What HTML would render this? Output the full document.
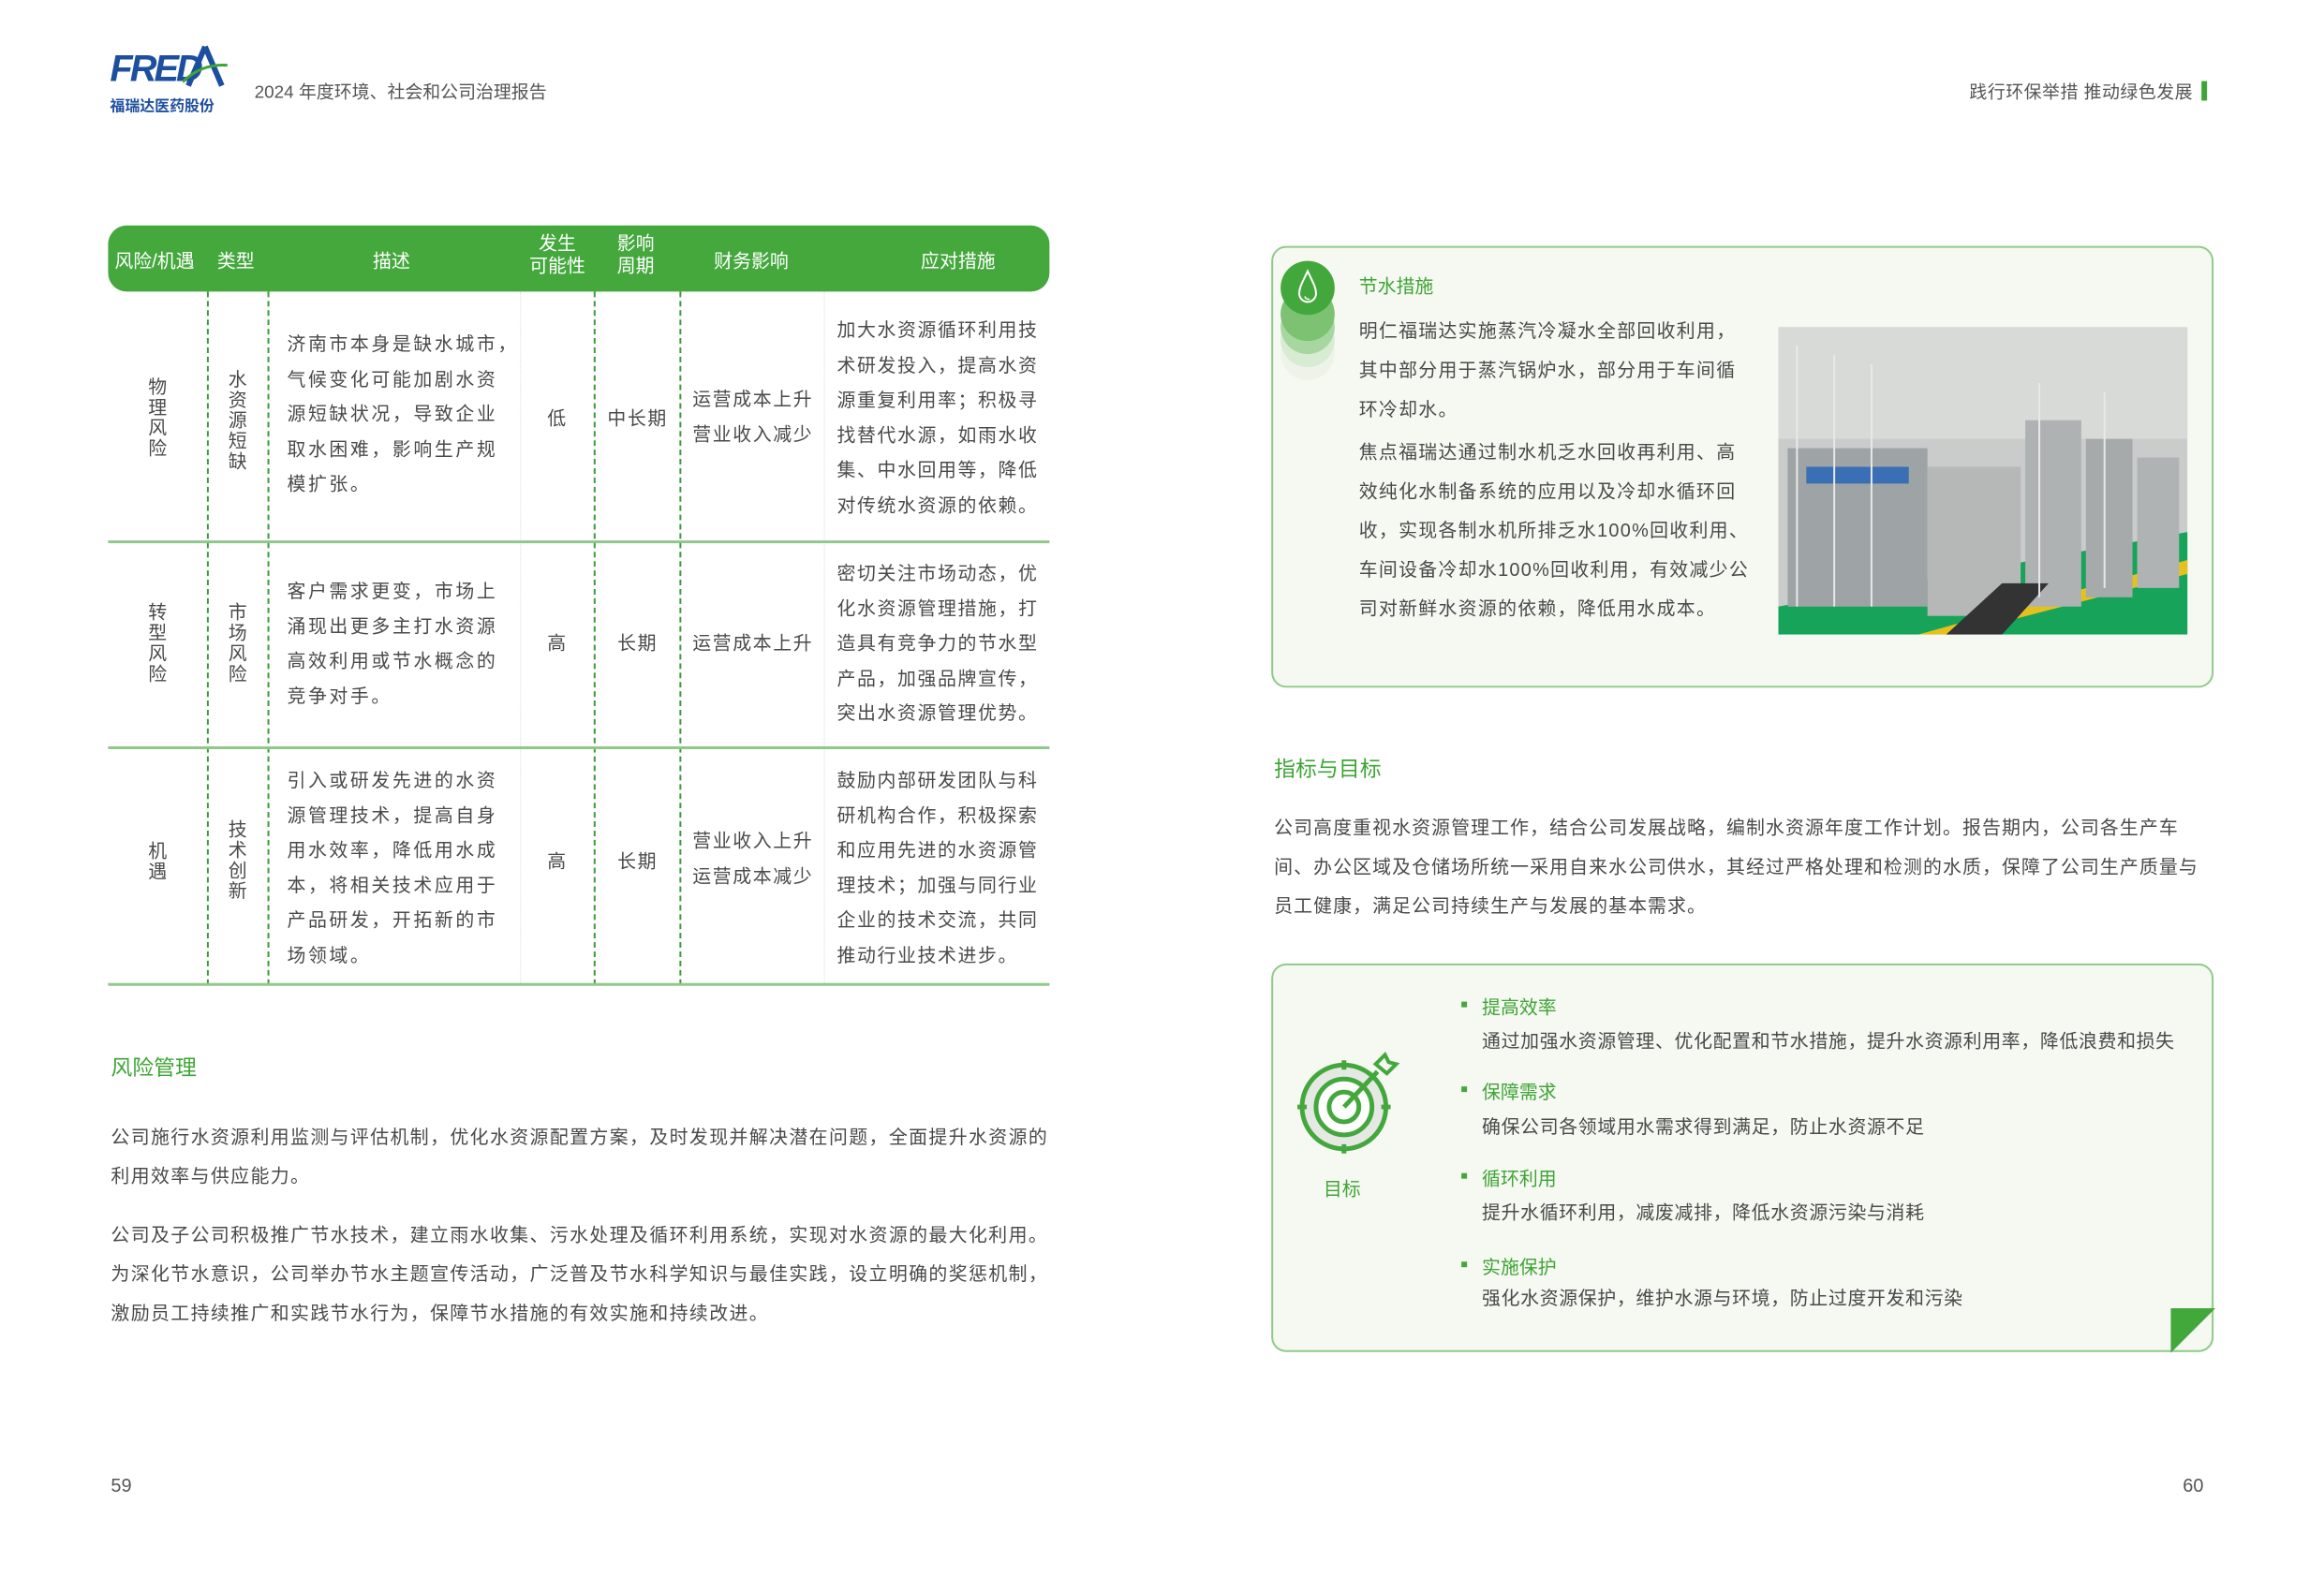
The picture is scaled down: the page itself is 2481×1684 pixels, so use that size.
<!DOCTYPE html>
<html><head><meta charset="utf-8"><style>
*{margin:0;padding:0;box-sizing:border-box}
body{width:2481px;height:1684px;background:#fff;position:relative;overflow:hidden;font-family:"Liberation Sans","Noto Sans CJK SC",sans-serif;color:#4a4a4a}
#w{position:absolute;left:0;top:0;width:2481px;height:1684px;transform:scale(0.995);transform-origin:0 0}
.a{position:absolute;white-space:nowrap}
.t{font-size:20px;letter-spacing:1.6px}
.g{color:#3ea535}
.vl{position:absolute;top:313px;height:744px;border-left:2px dashed #3e9a3a}
.vl2{position:absolute;top:313px;height:744px;border-left:1px dotted #cfe3cc}
.hl{position:absolute;left:116px;width:1010px;height:3px;background:#8fc88a}
.vert{position:absolute;font-size:20px;line-height:22px;width:24px;text-align:center;white-space:normal;word-break:break-all;color:#4a4a4a}
.cell{position:absolute;font-size:20px;letter-spacing:1.6px;line-height:37.5px;white-space:nowrap}
.c{text-align:center}
</style></head><body><div id="w">
<!-- header -->
<div class="a" style="left:118px;top:52px;font-size:40px;font-weight:bold;color:#1d4fa0;letter-spacing:-3px;font-style:italic">FRED</div>
<svg class="a" style="left:196px;top:48px" width="50" height="46"><path d="M24 2 L6 44 M24 2 L42 44" stroke="#1d4fa0" stroke-width="6" fill="none"/><path d="M0 40 Q20 20 48 22" stroke="#3ea535" stroke-width="3" fill="none"/></svg>
<div class="a" style="left:118px;top:100px;font-size:16px;font-weight:bold;color:#1d4fa0">福瑞达医药股份</div>
<div class="a" style="left:273px;top:84px;font-size:19px;color:#555">2024 年度环境、社会和公司治理报告</div>
<div class="a" style="left:2113px;top:84px;font-size:19px;color:#555;letter-spacing:0.5px">践行环保举措 推动绿色发展</div>
<div class="a" style="left:2362px;top:87px;width:6px;height:21px;background:#3ea535"></div>

<!-- table header -->
<div class="a" style="left:116px;top:242px;width:1010px;height:71px;background:#44a83d;border-radius:20px"></div>
<div class="a" style="color:#fff;font-size:20px;left:123px;top:264px">风险/机遇</div>
<div class="a" style="color:#fff;font-size:20px;left:233px;top:264px">类型</div>
<div class="a" style="color:#fff;font-size:20px;left:400px;top:264px">描述</div>
<div class="a" style="color:#fff;font-size:20px;left:562px;top:250px;line-height:24px;text-align:center;width:72px;white-space:normal">发生<br>可能性</div>
<div class="a" style="color:#fff;font-size:20px;left:662px;top:250px;line-height:24px">影响<br>周期</div>
<div class="a" style="color:#fff;font-size:20px;left:766px;top:264px">财务影响</div>
<div class="a" style="color:#fff;font-size:20px;left:988px;top:264px">应对措施</div>

<!-- grid -->
<div class="vl" style="left:222px"></div>
<div class="vl" style="left:287px"></div>
<div class="vl2" style="left:558px"></div>
<div class="vl" style="left:637px"></div>
<div class="vl" style="left:729px"></div>
<div class="vl2" style="left:884px"></div>
<div class="hl" style="top:580px"></div>
<div class="hl" style="top:801px"></div>
<div class="hl" style="top:1055px"></div>

<!-- row 1 -->
<div class="vert" style="left:157px;top:405px">物理风险</div>
<div class="vert" style="left:243px;top:397px">水资源短缺</div>
<div class="cell" style="left:308px;top:352px;letter-spacing:2.6px">济南市本身是缺水城市，<br>气候变化可能加剧水资<br>源短缺状况，导致企业<br>取水困难，影响生产规<br>模扩张。</div>
<div class="cell c" style="left:558px;width:80px;top:432px">低</div>
<div class="cell c" style="left:638px;width:92px;top:432px">中长期</div>
<div class="cell" style="left:743px;top:411px">运营成本上升<br>营业收入减少</div>
<div class="cell" style="left:898px;top:337px">加大水资源循环利用技<br>术研发投入，提高水资<br>源重复利用率；积极寻<br>找替代水源，如雨水收<br>集、中水回用等，降低<br>对传统水资源的依赖。</div>

<!-- row 2 -->
<div class="vert" style="left:157px;top:647px">转型风险</div>
<div class="vert" style="left:243px;top:647px">市场风险</div>
<div class="cell" style="left:308px;top:617px;letter-spacing:2.6px">客户需求更变，市场上<br>涌现出更多主打水资源<br>高效利用或节水概念的<br>竞争对手。</div>
<div class="cell c" style="left:558px;width:80px;top:673px">高</div>
<div class="cell c" style="left:638px;width:92px;top:673px">长期</div>
<div class="cell" style="left:743px;top:673px">运营成本上升</div>
<div class="cell" style="left:898px;top:598px">密切关注市场动态，优<br>化水资源管理措施，打<br>造具有竞争力的节水型<br>产品，加强品牌宣传，<br>突出水资源管理优势。</div>

<!-- row 3 -->
<div class="vert" style="left:157px;top:903px">机遇</div>
<div class="vert" style="left:243px;top:880px">技术创新</div>
<div class="cell" style="left:308px;top:820px;letter-spacing:2.6px">引入或研发先进的水资<br>源管理技术，提高自身<br>用水效率，降低用水成<br>本，将相关技术应用于<br>产品研发，开拓新的市<br>场领域。</div>
<div class="cell c" style="left:558px;width:80px;top:907px">高</div>
<div class="cell c" style="left:638px;width:92px;top:907px">长期</div>
<div class="cell" style="left:743px;top:885px">营业收入上升<br>运营成本减少</div>
<div class="cell" style="left:898px;top:820px">鼓励内部研发团队与科<br>研机构合作，积极探索<br>和应用先进的水资源管<br>理技术；加强与同行业<br>企业的技术交流，共同<br>推动行业技术进步。</div>

<!-- left text -->
<div class="a g" style="left:119px;top:1127px;font-size:23px">风险管理</div>
<div class="a t" style="left:119px;top:1200px;line-height:42px;letter-spacing:1.4px">公司施行水资源利用监测与评估机制，优化水资源配置方案，及时发现并解决潜在问题，全面提升水资源的<br>利用效率与供应能力。</div>
<div class="a t" style="left:119px;top:1305px;line-height:42px;letter-spacing:1.4px">公司及子公司积极推广节水技术，建立雨水收集、污水处理及循环利用系统，实现对水资源的最大化利用。<br>为深化节水意识，公司举办节水主题宣传活动，广泛普及节水科学知识与最佳实践，设立明确的奖惩机制，<br>激励员工持续推广和实践节水行为，保障节水措施的有效实施和持续改进。</div>
<div class="a" style="left:119px;top:1584px;font-size:20px;color:#555">59</div>
<div class="a" style="left:2342px;top:1584px;font-size:20px;color:#555">60</div>

<!-- box 1 -->
<div class="a" style="left:1364px;top:264px;width:1011px;height:474px;border:2px solid #8fca89;border-radius:16px;background:#f6f8f2"></div>
<div class="a" style="left:1374px;top:350px;width:58px;height:58px;border-radius:50%;background:#eef3ea"></div>
<div class="a" style="left:1374px;top:336px;width:58px;height:58px;border-radius:50%;background:#d8ebd3"></div>
<div class="a" style="left:1374px;top:322px;width:58px;height:58px;border-radius:50%;background:#a8d6a0"></div>
<div class="a" style="left:1374px;top:308px;width:58px;height:58px;border-radius:50%;background:#7cc272"></div>
<div class="a" style="left:1374px;top:280px;width:58px;height:58px;border-radius:50%;background:#43a83c"></div>
<svg class="a" style="left:1390px;top:288px" width="26" height="42"><path d="M13 3 C8 14 4 20 4 27 A9 9 0 0 0 22 27 C22 20 18 14 13 3Z" stroke="#fff" stroke-width="2" fill="none"/><path d="M10 30 A4 4 0 0 0 15 33" stroke="#fff" stroke-width="1.5" fill="none"/></svg>
<div class="a g" style="left:1458px;top:291px;font-size:20px">节水措施</div>
<div class="a t" style="left:1458px;top:335px;line-height:42px;letter-spacing:1.3px">明仁福瑞达实施蒸汽冷凝水全部回收利用，<br>其中部分用于蒸汽锅炉水，部分用于车间循<br>环冷却水。</div>
<div class="a t" style="left:1458px;top:465px;line-height:42px;letter-spacing:1.3px">焦点福瑞达通过制水机乏水回收再利用、高<br>效纯化水制备系统的应用以及冷却水循环回<br>收，实现各制水机所排乏水100%回收利用、<br>车间设备冷却水100%回收利用，有效减少公<br>司对新鲜水资源的依赖，降低用水成本。</div>
<!-- photo -->
<svg class="a" style="left:1908px;top:351px" width="439" height="330">
<rect width="439" height="330" fill="#c9cccb"/>
<rect y="0" width="439" height="120" fill="#d8dad8"/>
<polygon points="0,330 0,300 439,220 439,330" fill="#17a35a"/>
<polygon points="150,330 439,250 439,265 190,330" fill="#e6c11e"/>
<rect x="10" y="130" width="150" height="170" fill="#9ea3a5"/>
<rect x="160" y="150" width="100" height="160" fill="#b5b8b6"/>
<rect x="265" y="100" width="60" height="200" fill="#aeb2b3"/>
<rect x="330" y="120" width="50" height="170" fill="#a6aaab"/>
<rect x="385" y="140" width="45" height="140" fill="#b0b3b4"/>
<rect x="30" y="150" width="110" height="18" fill="#3a6fb5"/>
<polygon points="180,330 240,275 290,275 240,330" fill="#333"/>
<g stroke="#e8e8e8" stroke-width="2"><line x1="20" y1="20" x2="20" y2="300"/><line x1="60" y1="30" x2="60" y2="300"/><line x1="100" y1="40" x2="100" y2="300"/><line x1="280" y1="60" x2="280" y2="290"/><line x1="350" y1="70" x2="350" y2="280"/></g>
</svg>

<div class="a g" style="left:1367px;top:806px;font-size:23px">指标与目标</div>
<div class="a t" style="left:1367px;top:868px;line-height:42px;letter-spacing:1.1px">公司高度重视水资源管理工作，结合公司发展战略，编制水资源年度工作计划。报告期内，公司各生产车<br>间、办公区域及仓储场所统一采用自来水公司供水，其经过严格处理和检测的水质，保障了公司生产质量与<br>员工健康，满足公司持续生产与发展的基本需求。</div>

<!-- box 2 -->
<div class="a" style="left:1364px;top:1034px;width:1011px;height:417px;border:2px solid #8fca89;border-radius:16px;background:#f6f8f2"></div>
<svg class="a" style="left:2329px;top:1404px" width="48" height="50"><polygon points="0,0 48,0 0,48" fill="#43a83c"/></svg>
<svg class="a" style="left:1392px;top:1128px" width="112" height="112">
<circle cx="50" cy="60" r="45" fill="#e6e8e4" stroke="#43a83c" stroke-width="5"/>
<circle cx="50" cy="60" r="30" fill="#fff" stroke="#43a83c" stroke-width="5"/>
<circle cx="50" cy="60" r="16" fill="#fff" stroke="#43a83c" stroke-width="5"/>
<line x1="50" y1="10" x2="50" y2="20" stroke="#43a83c" stroke-width="5"/>
<line x1="50" y1="100" x2="50" y2="110" stroke="#43a83c" stroke-width="5"/>
<line x1="0" y1="60" x2="10" y2="60" stroke="#43a83c" stroke-width="5"/>
<line x1="90" y1="60" x2="100" y2="60" stroke="#43a83c" stroke-width="5"/>
<line x1="50" y1="60" x2="86" y2="22" stroke="#43a83c" stroke-width="5"/>
<path d="M84 14 L94 4 L98 12 L106 14 L96 24 Z" fill="none" stroke="#43a83c" stroke-width="4"/>
</svg>
<div class="a g" style="left:1420px;top:1260px;font-size:20px">目标</div>
<div class="a" style="left:1568px;top:1075px;width:6px;height:6px;background:#43a83c"></div>
<div class="a g" style="left:1590px;top:1065px;font-size:20px">提高效率</div>
<div class="a t" style="left:1590px;top:1101px;letter-spacing:0.65px">通过加强水资源管理、优化配置和节水措施，提升水资源利用率，降低浪费和损失</div>
<div class="a" style="left:1568px;top:1166px;width:6px;height:6px;background:#43a83c"></div>
<div class="a g" style="left:1590px;top:1156px;font-size:20px">保障需求</div>
<div class="a t" style="left:1590px;top:1193px;letter-spacing:0.65px">确保公司各领域用水需求得到满足，防止水资源不足</div>
<div class="a" style="left:1568px;top:1259px;width:6px;height:6px;background:#43a83c"></div>
<div class="a g" style="left:1590px;top:1249px;font-size:20px">循环利用</div>
<div class="a t" style="left:1590px;top:1285px;letter-spacing:0.65px">提升水循环利用，减废减排，降低水资源污染与消耗</div>
<div class="a" style="left:1568px;top:1354px;width:6px;height:6px;background:#43a83c"></div>
<div class="a g" style="left:1590px;top:1344px;font-size:20px">实施保护</div>
<div class="a t" style="left:1590px;top:1377px;letter-spacing:0.65px">强化水资源保护，维护水源与环境，防止过度开发和污染</div>
</div></body></html>
